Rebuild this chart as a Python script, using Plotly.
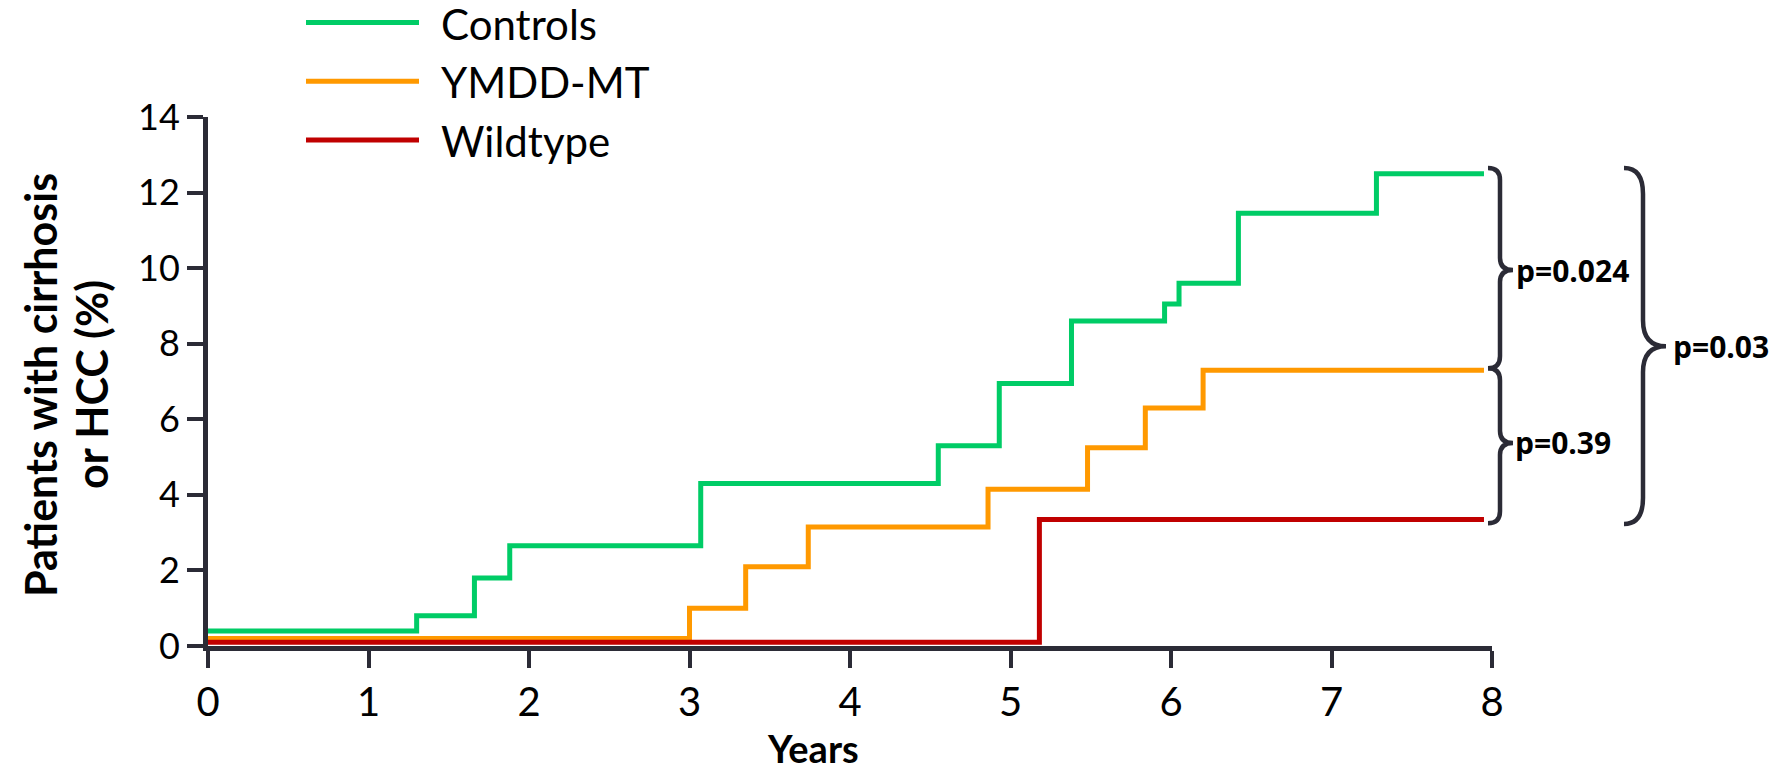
import plotly.graph_objects as go

# ---------------- data ----------------
series_names = ["Controls", "YMDD-MT", "Wildtype"]
series_colors = ["#00CC66", "#FF9900", "#C00000"]

controls_t = [0, 1.30, 1.66, 1.88, 3.07, 4.55, 4.93, 5.38, 5.96, 6.05, 6.42, 7.28, 7.95]
controls_v = [0.4, 0.8, 1.8, 2.65, 4.3, 5.3, 6.95, 8.6, 9.05, 9.6, 11.45, 12.5, 12.5]

ymdd_t = [0, 3.00, 3.35, 3.74, 4.86, 5.48, 5.84, 6.20, 7.95]
ymdd_v = [0.2, 1.0, 2.1, 3.15, 4.15, 5.25, 6.3, 7.3, 7.3]

wild_t = [0, 5.18, 7.95]
wild_v = [0.1, 3.35, 3.35]

x_ticks = [0, 1, 2, 3, 4, 5, 6, 7, 8]
y_ticks = [0, 2, 4, 6, 8, 10, 12, 14]

p_labels = ["p=0.024", "p=0.39", "p=0.03"]

y_title_lines = ["Patients with cirrhosis", "or HCC (%)"]
x_title = "Years"

# ---------------- layout geometry ----------------
W_FIG, H_FIG = 1775, 772
L, R, T, B = 208, 1492, 117, 646
PW, PH = R - L, B - T
XMIN, XMAX = 0, 8
YMIN, YMAX = 0, 14
AXIS_COLOR = "#2B2B36"

def px2paper_x(px):
    return (px - L) / PW

def py2paper_y(py):
    return (B - py) / PH

def val2py(v):
    return B - (v - YMIN) / (YMAX - YMIN) * PH

fig = go.Figure()

all_t = [controls_t, ymdd_t, wild_t]
all_v = [controls_v, ymdd_v, wild_v]
for name, color, t, v in zip(series_names, series_colors, all_t, all_v):
    fig.add_trace(go.Scatter(
        x=t, y=v, mode="lines", name=name,
        line=dict(color=color, width=5, shape="hv"),
        showlegend=False, cliponaxis=False,
    ))

shapes = []
annotations = []

# ---- custom legend ----
leg_y0 = 22.6
leg_dy = 58.7
for i, (name, color) in enumerate(zip(series_names, series_colors)):
    py = leg_y0 + i * leg_dy
    shapes.append(dict(type="line", xref="paper", yref="paper",
                       x0=px2paper_x(306), x1=px2paper_x(419),
                       y0=py2paper_y(py), y1=py2paper_y(py),
                       line=dict(color=color, width=5)))
    annotations.append(dict(text=name, xref="paper", yref="paper",
                            x=px2paper_x(439), y=py2paper_y(py + 1),
                            xanchor="left", yanchor="middle", showarrow=False,
                            font=dict(family="Lato", size=42, color="black")))

# ---- braces ----
def brace_path(x_end, x_spine, x_tip, v_top, v_bot, v_mid, r):
    yt, yb, ym = val2py(v_top), val2py(v_bot), val2py(v_mid)
    pts = lambda x, y: f"{px2paper_x(x):.5f},{py2paper_y(y):.5f}"
    return (f"M {pts(x_end, yt)} "
            f"Q {pts(x_spine, yt)} {pts(x_spine, yt + r)} "
            f"L {pts(x_spine, ym - r)} "
            f"Q {pts(x_spine, ym)} {pts(x_tip, ym)} "
            f"Q {pts(x_spine, ym)} {pts(x_spine, ym + r)} "
            f"L {pts(x_spine, yb - r)} "
            f"Q {pts(x_spine, yb)} {pts(x_end, yb)}")

c_end, y_end, w_end = controls_v[-1], ymdd_v[-1], wild_v[-1]
pad = 0.15
braces = [
    (1488, 1500, 1513, c_end + pad, y_end + 0.05, (c_end + y_end) / 2 + 0.05, 12),
    (1488, 1500, 1513, y_end + 0.05, w_end - 0.1, (y_end + w_end) / 2 + 0.05, 12),
    (1624, 1643, 1666, c_end + pad, w_end - 0.12, 7.93, 26),
]
label_x = [1514, 1513, 1671]
for (xe, xs, xt, vt, vb, vm, r), lab, lx in zip(braces, p_labels, label_x):
    shapes.append(dict(type="path", xref="paper", yref="paper",
                       path=brace_path(xe, xs, xt, vt, vb, vm, r),
                       line=dict(color=AXIS_COLOR, width=4.5)))
    annotations.append(dict(text=f"<b>{lab}</b>", xref="paper", yref="y",
                            x=px2paper_x(lx), y=vm, xanchor="left", yanchor="middle",
                            showarrow=False,
                            font=dict(family="Open Sans", size=30, color="black")))

# ---- axis titles ----
for line_text, cx in zip(y_title_lines, [40, 91]):
    annotations.append(dict(text=f"<b>{line_text}</b>",
                            xref="paper", yref="paper",
                            x=px2paper_x(cx), y=py2paper_y(385),
                            xanchor="center", yanchor="middle", textangle=-90,
                            showarrow=False,
                            font=dict(family="Lato", size=43, color="black")))
annotations.append(dict(text=f"<b>{x_title}</b>", xref="paper", yref="paper",
                        x=px2paper_x(813), y=py2paper_y(748),
                        xanchor="center", yanchor="middle", showarrow=False,
                        font=dict(family="Lato", size=38, color="black")))

fig.update_layout(
    width=W_FIG, height=H_FIG,
    margin=dict(l=L, r=W_FIG - R, t=T, b=H_FIG - B, pad=0),
    paper_bgcolor="white", plot_bgcolor="white",
    shapes=shapes, annotations=annotations,
    xaxis=dict(range=[XMIN, XMAX], tickvals=x_ticks, ticktext=[str(t) for t in x_ticks],
               showgrid=False, zeroline=False, showline=True, linecolor=AXIS_COLOR,
               linewidth=5, ticks="outside", ticklen=17, tickwidth=4, tickcolor=AXIS_COLOR,
               tickfont=dict(family="Lato", size=40, color="black")),
    yaxis=dict(range=[YMIN, YMAX], tickvals=y_ticks, ticktext=[str(t) for t in y_ticks],
               showgrid=False, zeroline=False, showline=True, linecolor=AXIS_COLOR,
               linewidth=5, ticks="outside", ticklen=16, tickwidth=4, tickcolor=AXIS_COLOR,
               tickfont=dict(family="Lato", size=36, color="black")),
)

fig.write_html("out.html")
